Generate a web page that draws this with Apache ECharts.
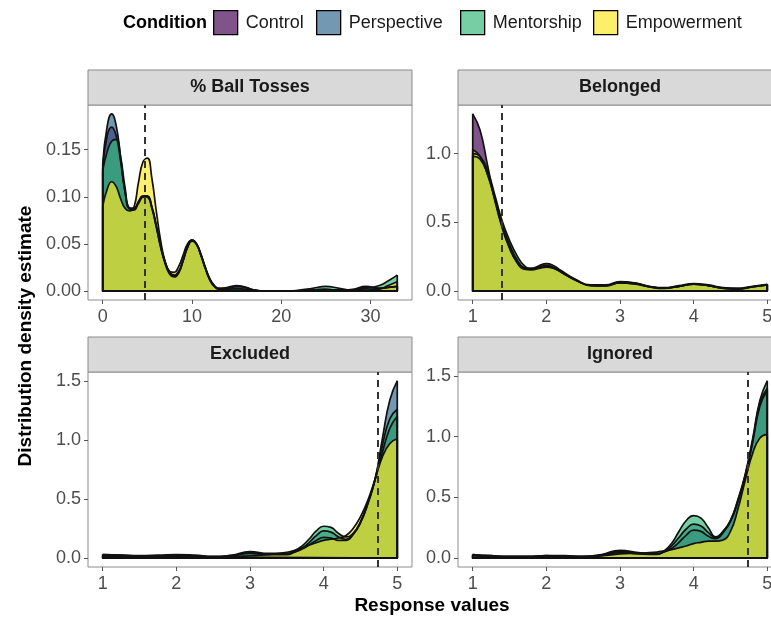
<!DOCTYPE html>
<html><head><meta charset="utf-8">
<script src="https://cdn.jsdelivr.net/npm/echarts@6/dist/echarts.min.js"></script>
<style>html,body{margin:0;padding:0;background:#fff;overflow:hidden;width:771px;height:620px}#c{width:800px;height:620px}</style>
</head><body><div id="c"></div>
<script>
const conditions = ['Control', 'Perspective', 'Mentorship', 'Empowerment'];
const colors = ['#440154', '#31688E', '#35B779', '#FDE725'];
const panelTitles = ['% Ball Tosses', 'Belonged', 'Excluded', 'Ignored'];

// Panel 1: % Ball Tosses
const x1 = [0, 0.5, 1, 1.5, 2, 2.5, 3, 3.5, 4, 4.5, 5, 5.5, 6, 6.5, 7, 7.5, 8, 8.5, 9, 9.5, 10, 10.5, 11, 11.5, 12, 12.5, 13, 14, 15, 16, 17, 18, 20, 22, 23.5, 25, 26.5, 28, 29.5, 31, 32, 33];
const control1 = [0.130, 0.165, 0.174, 0.165, 0.138, 0.105, 0.088, 0.087, 0.093, 0.100, 0.101, 0.090, 0.070, 0.048, 0.031, 0.020, 0.016, 0.020, 0.032, 0.046, 0.053, 0.050, 0.039, 0.025, 0.013, 0.006, 0.003, 0.003, 0.005, 0.004, 0.001, 0.000, 0.000, 0.000, 0.001, 0.002, 0.001, 0.001, 0.004, 0.003, 0.004, 0.005];
const perspective1 = [0.135, 0.175, 0.188, 0.176, 0.142, 0.106, 0.088, 0.088, 0.095, 0.101, 0.100, 0.088, 0.068, 0.046, 0.029, 0.018, 0.015, 0.019, 0.032, 0.047, 0.054, 0.050, 0.038, 0.024, 0.012, 0.005, 0.003, 0.004, 0.006, 0.004, 0.001, 0.000, 0.000, 0.000, 0.001, 0.002, 0.001, 0.002, 0.005, 0.003, 0.004, 0.005];
const mentorship1 = [0.128, 0.148, 0.159, 0.161, 0.143, 0.110, 0.087, 0.086, 0.094, 0.100, 0.100, 0.089, 0.069, 0.047, 0.030, 0.020, 0.017, 0.021, 0.033, 0.047, 0.054, 0.050, 0.038, 0.024, 0.012, 0.005, 0.002, 0.002, 0.003, 0.002, 0.001, 0.000, 0.000, 0.001, 0.003, 0.005, 0.003, 0.001, 0.003, 0.006, 0.011, 0.017];
const empowerment1 = [0.090, 0.108, 0.116, 0.111, 0.098, 0.088, 0.085, 0.089, 0.115, 0.137, 0.141, 0.120, 0.085, 0.053, 0.031, 0.021, 0.020, 0.026, 0.038, 0.050, 0.054, 0.050, 0.039, 0.025, 0.013, 0.006, 0.002, 0.001, 0.001, 0.001, 0.000, 0.000, 0.000, 0.000, 0.001, 0.001, 0.001, 0.000, 0.001, 0.002, 0.006, 0.010];

// Panel 2: Belonged
const x2 = [1, 1.1, 1.2, 1.3, 1.4, 1.5, 1.6, 1.7, 1.8, 1.9, 2, 2.1, 2.2, 2.4, 2.6, 2.8, 3, 3.2, 3.4, 3.6, 3.8, 4, 4.2, 4.4, 4.6, 4.8, 5];
const control2 = [1.29, 1.17, 0.92, 0.66, 0.46, 0.31, 0.21, 0.165, 0.165, 0.185, 0.200, 0.185, 0.150, 0.085, 0.045, 0.045, 0.070, 0.060, 0.035, 0.025, 0.040, 0.055, 0.045, 0.025, 0.020, 0.035, 0.050];
const perspective2 = [0.98, 0.96, 0.85, 0.67, 0.48, 0.34, 0.23, 0.170, 0.160, 0.170, 0.180, 0.170, 0.140, 0.080, 0.042, 0.040, 0.060, 0.055, 0.032, 0.022, 0.035, 0.050, 0.040, 0.022, 0.018, 0.032, 0.045];
const mentorship2 = [1.00, 0.98, 0.88, 0.70, 0.51, 0.37, 0.26, 0.185, 0.165, 0.175, 0.185, 0.170, 0.140, 0.080, 0.042, 0.040, 0.065, 0.058, 0.033, 0.022, 0.035, 0.050, 0.040, 0.022, 0.018, 0.032, 0.048];
const empowerment2 = [1.03, 0.98, 0.85, 0.67, 0.47, 0.32, 0.21, 0.160, 0.155, 0.165, 0.175, 0.165, 0.138, 0.080, 0.040, 0.038, 0.060, 0.052, 0.030, 0.020, 0.035, 0.050, 0.040, 0.020, 0.015, 0.030, 0.045];

// Panel 3: Excluded
const x3 = [1, 1.25, 1.5, 1.75, 2, 2.25, 2.5, 2.75, 3, 3.25, 3.5, 3.6, 3.7, 3.8, 3.9, 4, 4.1, 4.2, 4.3, 4.4, 4.5, 4.6, 4.7, 4.8, 4.9, 5];
const control3 = [0.030, 0.025, 0.020, 0.020, 0.025, 0.020, 0.012, 0.020, 0.045, 0.035, 0.035, 0.050, 0.075, 0.110, 0.150, 0.175, 0.170, 0.150, 0.150, 0.200, 0.300, 0.460, 0.670, 0.900, 1.100, 1.200];
const perspective3 = [0.015, 0.012, 0.010, 0.010, 0.010, 0.010, 0.010, 0.020, 0.040, 0.030, 0.030, 0.050, 0.080, 0.130, 0.190, 0.230, 0.220, 0.180, 0.160, 0.200, 0.300, 0.460, 0.670, 1.020, 1.340, 1.500];
const mentorship3 = [0.020, 0.015, 0.010, 0.010, 0.010, 0.010, 0.010, 0.025, 0.055, 0.040, 0.040, 0.060, 0.100, 0.160, 0.230, 0.270, 0.260, 0.210, 0.180, 0.210, 0.310, 0.470, 0.670, 0.960, 1.180, 1.260];
const empowerment3 = [0.030, 0.025, 0.022, 0.025, 0.030, 0.025, 0.015, 0.015, 0.020, 0.030, 0.050, 0.065, 0.085, 0.110, 0.130, 0.150, 0.160, 0.170, 0.190, 0.250, 0.350, 0.490, 0.670, 0.860, 0.970, 1.010];

// Panel 4: Ignored
const x4 = [1, 1.25, 1.5, 1.75, 2, 2.25, 2.5, 2.75, 3, 3.25, 3.5, 3.6, 3.7, 3.8, 3.9, 4, 4.1, 4.2, 4.3, 4.4, 4.5, 4.6, 4.7, 4.8, 4.9, 5];
const control4 = [0.030, 0.020, 0.015, 0.015, 0.020, 0.015, 0.015, 0.030, 0.065, 0.045, 0.035, 0.050, 0.080, 0.130, 0.190, 0.230, 0.220, 0.180, 0.160, 0.210, 0.300, 0.460, 0.670, 0.950, 1.250, 1.380];
const perspective4 = [0.020, 0.012, 0.010, 0.010, 0.012, 0.010, 0.010, 0.025, 0.055, 0.040, 0.035, 0.055, 0.100, 0.170, 0.240, 0.280, 0.265, 0.210, 0.170, 0.220, 0.310, 0.470, 0.680, 0.960, 1.280, 1.400];
const mentorship4 = [0.020, 0.012, 0.010, 0.010, 0.015, 0.010, 0.010, 0.020, 0.045, 0.035, 0.030, 0.060, 0.120, 0.220, 0.310, 0.350, 0.330, 0.250, 0.175, 0.220, 0.310, 0.480, 0.690, 0.980, 1.300, 1.460];
const empowerment4 = [0.030, 0.020, 0.015, 0.015, 0.020, 0.020, 0.015, 0.020, 0.035, 0.040, 0.050, 0.060, 0.070, 0.085, 0.100, 0.120, 0.130, 0.140, 0.140, 0.150, 0.220, 0.400, 0.640, 0.860, 0.990, 1.020];

const medians = [4.7, 1.386, 4.73, 4.73];
const xTicks = [[0, 10, 20, 30], [1, 2, 3, 4, 5], [1, 2, 3, 4, 5], [1, 2, 3, 4, 5]];
const yTicks = [[0, 0.05, 0.10, 0.15], [0, 0.5, 1.0], [0, 0.5, 1.0, 1.5], [0, 0.5, 1.0, 1.5]];
const yDecimals = [2, 1, 1, 1];

const xs = [x1, x2, x3, x4];
const dens = [
  [control1, perspective1, mentorship1, empowerment1],
  [control2, perspective2, mentorship2, empowerment2],
  [control3, perspective3, mentorship3, empowerment3],
  [control4, perspective4, mentorship4, empowerment4]
];

const FONT = "'Liberation Sans', Arial, Helvetica, sans-serif";
const layout = [
  {left: 88, top: 105}, {left: 458, top: 105},
  {left: 88, top: 372}, {left: 458, top: 372}
];
const PW = 324, PH = 195, SH = 35;
const ALPHA = 0.68;
const LW = 1.7;

function rgba(hex, a) {
  const n = parseInt(hex.slice(1), 16);
  return 'rgba(' + ((n >> 16) & 255) + ',' + ((n >> 8) & 255) + ',' + (n & 255) + ',' + a + ')';
}

const option = {
  animation: false,
  backgroundColor: '#fff',
  grid: [], xAxis: [], yAxis: [], series: [], legend: [], graphic: []
};

for (let p = 0; p < 4; p++) {
  const X = xs[p], D = dens[p], L = layout[p];
  const n = X.length;
  const xr = X[n - 1] - X[0];
  const ymax = Math.max(...D.flat());
  option.grid.push({
    left: L.left, top: L.top, width: PW, height: PH,
    show: true, borderColor: '#8c8c8c', borderWidth: 1, backgroundColor: '#fff'
  });
  option.xAxis.push({
    type: 'value', gridIndex: p,
    min: X[0] - 0.05 * xr, max: X[n - 1] + 0.05 * xr,
    splitLine: {show: false},
    axisLine: {show: false, onZero: false},
    axisTick: {show: true, length: 4, customValues: xTicks[p], lineStyle: {color: '#555', width: 1}},
    axisLabel: {customValues: xTicks[p], fontSize: 18, color: '#4d4d4d', margin: 8, fontFamily: FONT}
  });
  option.yAxis.push({
    type: 'value', gridIndex: p,
    min: -0.05 * ymax, max: 1.05 * ymax,
    splitLine: {show: false},
    axisLine: {show: false, onZero: false},
    axisTick: {show: true, length: 4, customValues: yTicks[p], lineStyle: {color: '#555', width: 1}},
    axisLabel: {customValues: yTicks[p], fontSize: 18, color: '#4d4d4d', margin: 7, fontFamily: FONT,
      formatter: (v) => Number(v).toFixed(yDecimals[p])}
  });
  conditions.forEach((c, k) => {
    const d = D[k];
    option.series.push({
      name: c, type: 'line', xAxisIndex: p, yAxisIndex: p,
      smooth: 0.5, symbol: 'none', silent: true,
      data: X.map((v, i) => [v, d[i]]),
      itemStyle: {color: rgba(colors[k], ALPHA)},
      lineStyle: {color: '#111', width: LW},
      areaStyle: {color: colors[k], opacity: ALPHA}
    });
    const edge = {
      name: 'edge-' + c, type: 'line', xAxisIndex: p, yAxisIndex: p,
      smooth: false, symbol: 'none', silent: true,
      data: [[X[0], d[0]], [X[0], 0], [X[n - 1], 0], [X[n - 1], d[n - 1]]],
      lineStyle: {color: '#111', width: LW}
    };
    if (k === conditions.length - 1) {
      edge.markLine = {
        symbol: 'none', silent: true, label: {show: false},
        lineStyle: {type: [7, 5], color: '#333', width: 2},
        data: [{xAxis: medians[p]}]
      };
    }
    option.series.push(edge);
  });
  option.graphic.push({
    type: 'rect', shape: {x: L.left, y: L.top - SH, width: PW, height: SH},
    style: {fill: '#d9d9d9', stroke: '#8c8c8c', lineWidth: 1}, silent: true
  });
  option.graphic.push({
    type: 'text', x: L.left + PW / 2, y: L.top - SH / 2, silent: true,
    style: {text: panelTitles[p], font: 'bold 18px ' + FONT, fill: '#1a1a1a', align: 'center', verticalAlign: 'middle'}
  });
}

const legendLeft = [213, 316, 460, 593];
conditions.forEach((c, k) => {
  option.legend.push({
    data: [c], left: legendLeft[k], top: 10, padding: 0,
    itemWidth: 24, itemHeight: 24, icon: 'rect', selectedMode: false,
    itemStyle: {borderColor: '#000', borderWidth: 1.3},
    textStyle: {fontSize: 18, color: '#1a1a1a', fontFamily: FONT, padding: [0, 0, 0, 3]}
  });
});

option.graphic.push({
  type: 'text', x: 123, y: 23, silent: true,
  style: {text: 'Condition', font: 'bold 18px ' + FONT, fill: '#000', align: 'left', verticalAlign: 'middle'}
});
option.graphic.push({
  type: 'text', x: 26, y: 336, rotation: Math.PI / 2, silent: true,
  style: {text: 'Distribution density estimate', font: 'bold 19px ' + FONT, fill: '#000', align: 'center', verticalAlign: 'middle'}
});
option.graphic.push({
  type: 'text', x: 432, y: 606, silent: true,
  style: {text: 'Response values', font: 'bold 19px ' + FONT, fill: '#000', align: 'center', verticalAlign: 'middle'}
});

const chart = echarts.init(document.getElementById('c'), null, {renderer: 'canvas'});
chart.setOption(option);
</script>
</body></html>
